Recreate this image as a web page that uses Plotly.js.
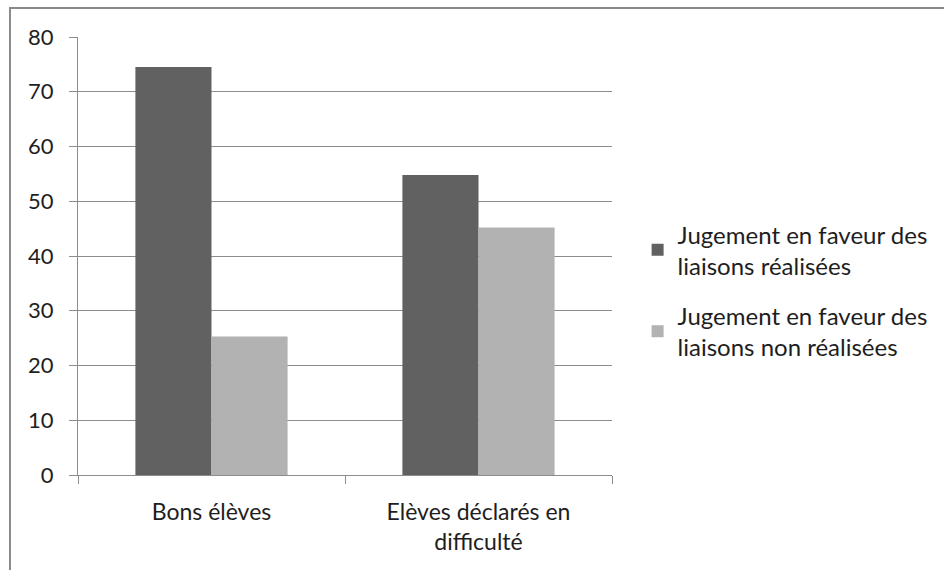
<!DOCTYPE html>
<html>
<head>
<meta charset="utf-8">
<script src="https://cdn.plot.ly/plotly-3.0.1.min.js"></script>
<style>
  html, body { margin: 0; padding: 0; background: #fff; }
  #wrap { position: relative; width: 944px; height: 570px; }
  #chart { width: 944px; height: 570px; }
  #frame { position: absolute; left: 9px; top: 7px; width: 935px; height: 563px;
           border-top: 2px solid #8a8a8a; border-left: 2px solid #8a8a8a;
           box-sizing: border-box; pointer-events: none; }
</style>
</head>
<body>
<div id="wrap">
  <div id="chart"></div>
  <div id="frame"></div>
</div>
<script>
const categories = ["Bons élèves", "Elèves déclarés en<br>difficulté"];
const seriesNames = ["Jugement en faveur des<br>liaisons réalisées", "Jugement en faveur des<br>liaisons non réalisées"];
const realisees = [74.5, 54.8];
const nonRealisees = [25.3, 45.2];
const yTicks = [0, 10, 20, 30, 40, 50, 60, 70, 80];

const font = "Lato, 'Open Sans', sans-serif";

const traces = [
  { type: "bar", x: categories, y: realisees, name: seriesNames[0],
    marker: { color: "#616161" }, legendgroup: "a" },
  { type: "bar", x: categories, y: nonRealisees, name: seriesNames[1],
    marker: { color: "#b2b2b2" }, legendgroup: "b" }
];

const layout = {
  width: 944, height: 570,
  margin: { l: 78, r: 331, t: 37, b: 95, pad: 0 },
  paper_bgcolor: "#fff", plot_bgcolor: "#fff",
  font: { family: font, size: 22, color: "#1e1e1e" },
  barmode: "group",
  bargap: 0.43, bargroupgap: 0,
  showlegend: true,
  legend: {
    x: 1.046, y: 0.421, xanchor: "left", yanchor: "middle",
    traceorder: "grouped", tracegroupgap: 16,
    font: { family: font, size: 24, color: "#1e1e1e" },
    itemwidth: 30, bgcolor: "rgba(0,0,0,0)"
  },
  xaxis: {
    type: "category", tickson: "boundaries",
    ticks: "outside", ticklen: 8, tickcolor: "#8c8c8c", tickwidth: 1,
    showline: true, linecolor: "#8c8c8c", linewidth: 1,
    showgrid: false, tickfont: { family: font, size: 23, color: "#1e1e1e" },
    ticklabelstandoff: 16
  },
  yaxis: {
    range: [0, 80], tickvals: yTicks, ticktext: yTicks.map(String),
    ticks: "outside", ticklen: 8, tickcolor: "#8c8c8c", tickwidth: 1,
    showline: true, linecolor: "#8c8c8c", linewidth: 1,
    showgrid: true, gridcolor: "#8c8c8c", gridwidth: 1,
    zeroline: false,
    tickfont: { family: font, size: 22, color: "#1e1e1e" },
    ticklabelstandoff: 11
  }
};

Plotly.newPlot("chart", traces, layout, { displayModeBar: false, staticPlot: true });
</script>
</body>
</html>
